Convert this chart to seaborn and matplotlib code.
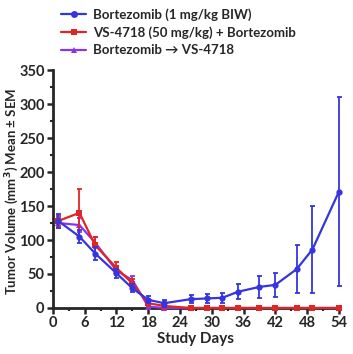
import numpy as np
import pandas as pd
import seaborn as sns
import matplotlib.pyplot as plt
from matplotlib.lines import Line2D
from matplotlib.ticker import MultipleLocator

days = [1, 5, 8, 12, 15, 18, 21, 26, 29, 32, 35, 39, 42, 46, 49, 54]

bort_mean = [128, 105, 80, 51, 29, 12, 7, 13, 14, 15, 24, 31, 34, 57, 86, 171]
bort_sem = [10, 10, 10, 7, 6, 5, 5, 6, 7, 7, 11, 16, 18, 35, 64, 139]

combo_mean = [128, 140, 92, 59, 36, 7, 3, 0, 0, 0, 0, 0, 0, 0, 0, 0]
combo_sem = [8, 35, 12, 8, 6, 4, 2, 0, 0, 0, 0, 0, 0, 0, 0, 0]

seq_mean = [125, 122, 96, 55, 41, 2, 0, 0, 0, 0, 0, 0, 0, 0, 0, 0]
seq_sem = [8, 10, 8, 7, 6, 3, 1, 0, 0, 0, 0, 0, 0, 0, 0, 0]

labels = ["Bortezomib (1 mg/kg BIW)", "VS-4718 (50 mg/kg) + Bortezomib",
          "Bortezomib \u2192 VS-4718"]
colors = ["#3535e0", "#e02525", "#8a35e8"]
markers = ["o", "s", "^"]

sns.set_style("ticks")
plt.rcParams['font.family'] = ['Lato', 'DejaVu Sans']
plt.rcParams['font.weight'] = 'bold'

fig = plt.figure(figsize=(3.53, 3.54), dpi=100)
ax = fig.add_axes([0.150, 0.130, 0.810, 0.672])

series = [(bort_mean, bort_sem), (combo_mean, combo_sem), (seq_mean, seq_sem)]
zorders = [5, 4, 3]
for (m, s), lab, c, mk, z in zip(series, labels, colors, markers, zorders):
    df = pd.DataFrame({"day": days, "vol": m})
    sns.lineplot(data=df, x="day", y="vol", ax=ax, color=c, marker=mk,
                 markersize=4.5, markeredgewidth=0, linewidth=1.6,
                 zorder=z, clip_on=False)
    ax.errorbar(days, m, yerr=s, fmt="none", ecolor=c, elinewidth=1.3,
                capsize=1.8, capthick=1.3, zorder=z, clip_on=False)

ax.set_xlim(0, 54)
ax.set_ylim(0, 350)
ax.xaxis.set_major_locator(MultipleLocator(6))
ax.xaxis.set_minor_locator(MultipleLocator(3))
ax.yaxis.set_major_locator(MultipleLocator(50))
ax.yaxis.set_minor_locator(MultipleLocator(25))
ax.tick_params(which="major", length=4, width=1.8, labelsize=10.5, pad=2)
ax.tick_params(which="minor", length=2.5, width=1.5)
for t in ax.get_xticklabels() + ax.get_yticklabels():
    t.set_fontweight("bold")
for sp in ["left", "bottom"]:
    ax.spines[sp].set_linewidth(2)
sns.despine(ax=ax)

ax.set_xlabel("Study Days", fontsize=11, fontweight="bold", labelpad=1)
ax.set_ylabel("Tumor Volume (mm$^\\mathbf{3}$) Mean \u00b1 SEM", fontsize=9.5,
              fontweight="bold")
ax.yaxis.set_label_coords(-0.11, 0.49)

handles = [Line2D([], [], color=c, marker=mk, markersize=5, markeredgewidth=0,
                  linewidth=1.6) for c, mk in zip(colors, markers)]
fig.legend(handles, labels, loc="upper left", bbox_to_anchor=(0.14, 1.01),
           frameon=False, prop={"size": 9.5, "weight": "bold"},
           handlelength=1.9, handletextpad=0.5, labelspacing=0.4)

fig.savefig("out.png", dpi=100)
